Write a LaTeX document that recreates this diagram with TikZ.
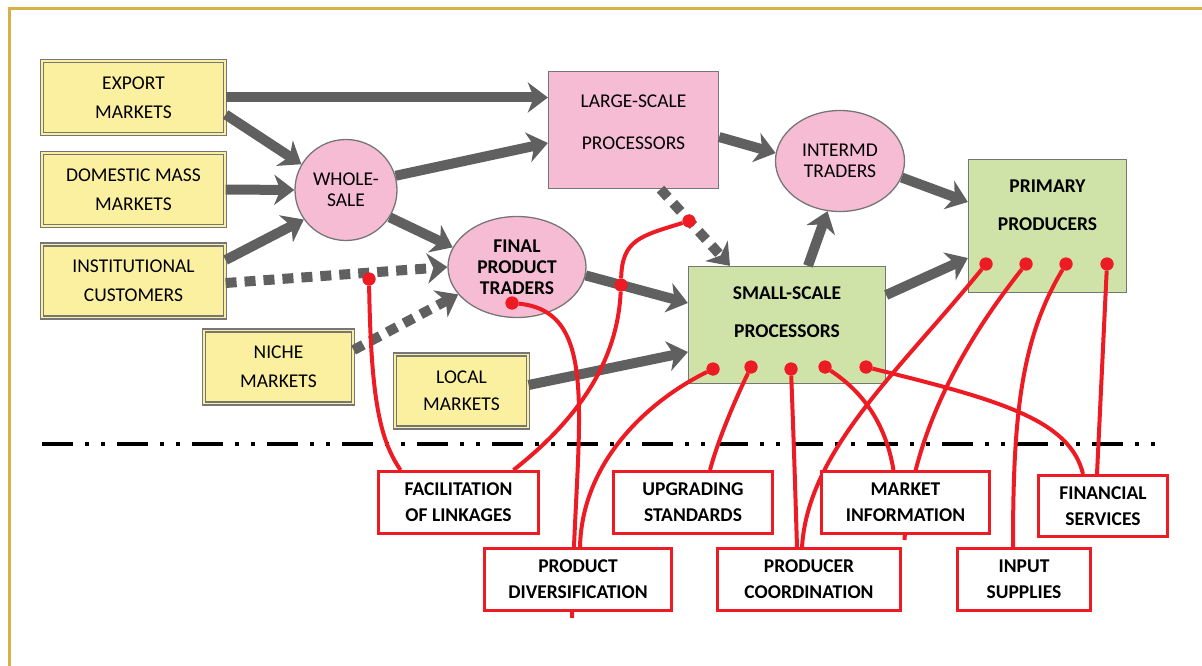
\documentclass[tikz,border=0pt]{standalone}
\usepackage{fontspec}
\setmainfont{Carlito}
\usetikzlibrary{arrows.meta,shapes.geometric}
\definecolor{marketyellow}{HTML}{FBF0A0}
\definecolor{actorpink}{HTML}{F6BCD4}
\definecolor{firmgreen}{HTML}{CFE3A8}
\definecolor{boxgray}{HTML}{767676}
\definecolor{flowgray}{HTML}{606060}
\definecolor{linered}{HTML}{ED1C24}
\definecolor{framegold}{HTML}{D8B04A}
\newcommand{\labelsize}{\fontsize{19.5}{21}\selectfont}
\pgfdeclarelayer{front}
\pgfsetlayers{main,front}

\begin{document}
\begin{tikzpicture}[x=1pt,y=-1pt,
 every node/.style ={font=\labelsize},
 market/.style ={draw=boxgray,double=marketyellow,line width=1.2pt,double distance=1.8pt,fill=marketyellow,align=center,minimum height=73pt},
 actor/.style ={draw=boxgray,line width=1.3pt,fill=actorpink,align=center},
 firm/.style ={draw=boxgray,line width=1.3pt,fill=firmgreen,align=center,font=\labelsize\bfseries},
 service/.style ={draw=linered,line width=3pt,fill=white,align=center,font=\labelsize\bfseries,minimum height=62pt},
 flowarrow/.style ={-{Stealth[length=20pt,width=30pt,inset=6pt]},line width=10pt,draw=flowgray},
 flowdashed/.style ={flowarrow,dash pattern=on 11pt off 8pt},
 supportline/.style ={draw=linered,line width=4pt},
 supportdot/.style ={circle,fill=linered,inner sep=0pt,minimum size=13pt},
 divider/.style ={draw=black,line width=4pt,dash pattern=on 31pt off 12pt on 4pt off 12pt on 4pt off 12pt}
 ]
\useasboundingbox (0,0) rectangle (1202,666);
%frame
\draw[framegold,line width=3pt] (9.5,666) -- (9.5,8.5) -- (1202,8.5);

%markets
\node[market,minimum width=183pt] (export) at (133.5,97.5) {EXPORT\\[8pt]MARKETS};
\node[market,minimum width=183pt] (domestic) at (133.5,189.5) {DOMESTIC MASS\\[8pt]MARKETS};
\node[market,minimum width=183pt] (institution) at (133.5,281) {INSTITUTIONAL\\[8pt]CUSTOMERS};
\node[market,minimum width=149pt] (niche) at (278.5,367) {NICHE\\[8pt]MARKETS};
\node[market,minimum width=133pt] (local) at (461.5,391) {LOCAL\\[6pt]MARKETS};

%traders and processors
\node[actor,ellipse,inner sep=0pt,minimum width=102pt,minimum height=101pt] (wholesale) at (346,190) {WHOLE-\\SALE};
\node[actor,ellipse,inner sep=0pt,minimum width=138pt,minimum height=101pt,font=\labelsize\bfseries] (finaltraders) at (517,267) {FINAL\\PRODUCT\\TRADERS};
\node[actor,minimum width=170pt,minimum height=117pt] (largeproc) at (633.5,130) {LARGE-SCALE\\[21pt]PROCESSORS\\[-6pt]\mbox{}};
\node[actor,ellipse,inner sep=0pt,minimum width=129pt,minimum height=101pt] (intermd) at (840,161) {INTERMD\\TRADERS};
\node[firm,minimum width=197pt,minimum height=117pt] (smallproc) at (787,325) {SMALL-SCALE\\[17pt]PROCESSORS\\[5pt]\mbox{}};
\node[firm,minimum width=158pt,minimum height=133pt] (primary) at (1047.5,226) {PRIMARY\\[17pt]PRODUCERS\\[21pt]\mbox{}};

%support services
\begin{pgfonlayer}{front}
\node[service,minimum width=160pt] (linkage) at (458.5,502.5) {FACILITATION\\[5pt]OF LINKAGES};
\node[service,minimum width=159pt] (upgrade) at (693,502.5) {UPGRADING\\[5pt]STANDARDS};
\node[service,minimum width=168pt] (information) at (905.5,502.5) {MARKET\\[5pt]INFORMATION};
\node[service,minimum width=129pt,minimum height=61pt] (finance) at (1103,506) {FINANCIAL\\[5pt]SERVICES};
\node[service,minimum width=187pt] (diversify) at (578,579.5) {PRODUCT\\[5pt]DIVERSIFICATION};
\node[service,minimum width=183pt] (coordination) at (809,579.5) {PRODUCER\\[5pt]COORDINATION};
\node[service,minimum width=133pt] (inputs) at (1024,579.5) {INPUT\\[5pt]SUPPLIES};
\end{pgfonlayer}

%product flows
\draw[flowarrow] (export.east) -- (export.east -| largeproc.west);
\draw[flowarrow] ([yshift=-17pt]export.east) -- (wholesale.150);
\draw[flowarrow] (domestic.east) -- (wholesale.west);
\draw[flowarrow] ([yshift=21pt]institution.east) -- (wholesale.215);
\draw[flowarrow] (wholesale.16) -- ([yshift=-13pt]largeproc.west);
\draw[flowarrow] (wholesale.-32) -- (finaltraders.163);
\draw[flowdashed] ([yshift=-2pt]institution.east) -- (finaltraders.west);
\draw[flowdashed] ([yshift=17pt]niche.east) -- (finaltraders.205);
\draw[flowarrow] ([yshift=6pt]local.east) -- ([yshift=-27pt]smallproc.west);
\draw[flowarrow] (finaltraders.-7) -- ([yshift=22pt]smallproc.west);
\draw[flowdashed] ([xshift=27pt]largeproc.south) -- ([xshift=-57pt]smallproc.north);
\draw[flowarrow] ([xshift=21pt]smallproc.north) -- (intermd.-104);
\draw[flowarrow] ([yshift=-7pt]largeproc.east) -- (intermd.173);
\draw[flowarrow] (intermd.-15) -- ([yshift=24pt]primary.west);
\draw[flowarrow] ([yshift=30pt]smallproc.east) -- ([yshift=-32pt]primary.west);

%divide between chain and services
\coordinate (divleft) at (42,444);
\coordinate (divright) at (1165,444);
\draw[divider] (divleft) -- (divright);

%service contact points
\node[supportdot] (dinst) at (369,279) {};
\node[supportdot] (dfinal) at (512,303) {};
\node[supportdot] (dmid) at (621,285) {};
\node[supportdot] (dlarge) at (689,221) {};
\node[supportdot] (ds1) at (713,369) {};
\node[supportdot] (ds2) at (751,367) {};
\node[supportdot] (ds3) at (791,369) {};
\node[supportdot] (ds4) at (825,367) {};
\node[supportdot] (ds5) at (866,367) {};
\node[supportdot] (dp1) at (986,264) {};
\node[supportdot] (dp2) at (1026,264) {};
\node[supportdot] (dp3) at (1066,264) {};
\node[supportdot] (dp4) at (1107,264) {};

%service links
\draw[supportline] (dinst) .. controls (371,400) and (380,440) .. ([xshift=-58pt]linkage.north);
\draw[supportline] (dlarge) .. controls (640,236) and (622,240) .. (dmid);
\draw[supportline] (dmid) .. controls (618,350) and (590,410) .. ([xshift=55pt]linkage.north);
\draw[supportline] (dfinal) .. controls (605,312) and (574,430) .. ([xshift=-6pt,yshift=-6pt]diversify.south);
\draw[supportline] (ds1) .. controls (650,400) and (582,460) .. ([xshift=2pt]diversify.north);
\draw[supportline] (ds2) .. controls (735,400) and (718,440) .. ([xshift=17pt]upgrade.north);
\draw[supportline] (ds3) .. controls (794,450) .. ([xshift=-12pt]coordination.north);
\draw[supportline] (dp1) .. controls (900,370) and (808,450) .. ([xshift=-7pt]coordination.north);
\draw[supportline] (ds4) .. controls (860,390) and (885,420) .. ([xshift=-12pt]information.north);
\draw[supportline] (dp2) .. controls (950,360) and (910,450) .. ([xshift=-1pt,yshift=-5pt]information.south);
\draw[supportline] (ds5) .. controls (1000,400) and (1070,420) .. ([xshift=-20pt]finance.north);
\draw[supportline] (dp3) .. controls (1020,340) and (1013,420) .. ([xshift=-11pt]inputs.north);
\draw[supportline] (dp4) -- ([xshift=-6pt]finance.north);
%dots on top of links
\foreach \d in {dinst,dfinal,dmid,dlarge,ds1,ds2,ds3,ds4,ds5,dp1,dp2,dp3,dp4}
  \fill[linered] (\d) circle (6.5pt);
\end{tikzpicture}
\end{document}
